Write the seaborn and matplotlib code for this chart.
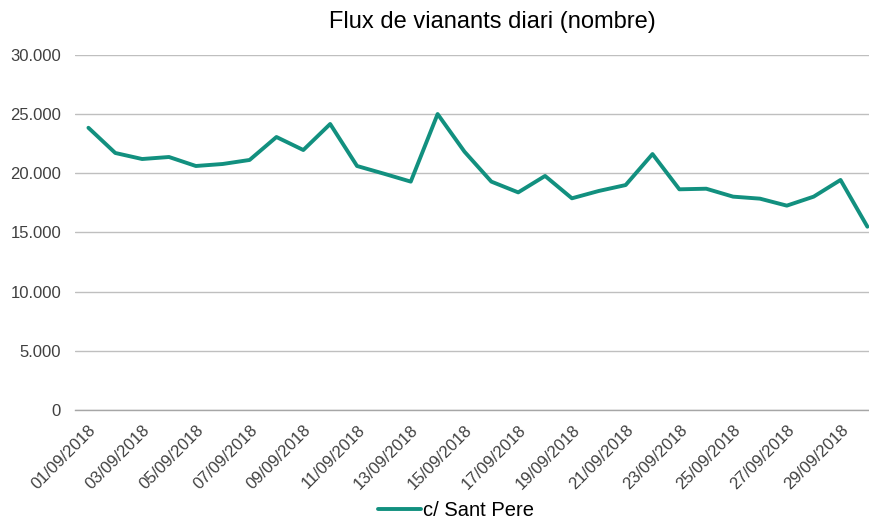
import pandas as pd
import matplotlib
matplotlib.use('Agg')
import matplotlib.pyplot as plt
import matplotlib.ticker as mticker
import seaborn as sns

# Daily pedestrian counts, September 2018
dates = [f"{d:02d}/09/2018" for d in range(1, 31)]
sant_pere = [23850, 21720, 21210, 21380, 20620, 20790, 21130, 23070, 21970, 24170,
             20620, 19970, 19300, 25010, 21830, 19300, 18390, 19780, 17890, 18510,
             19010, 21630, 18650, 18700, 18030, 17860, 17270, 18030, 19440, 15490]
series_name = "c/ Sant Pere"
title = "Flux de vianants diari (nombre)"

df = pd.DataFrame({"idx": range(len(dates)), "date": dates, "value": sant_pere})

sns.set_theme(style="white")
plt.rcParams['font.family'] = ['Liberation Sans', 'DejaVu Sans']

fig = plt.figure(figsize=(8.69, 5.21), dpi=100)
ax = fig.add_axes([75 / 869, 1 - 410 / 521, 794 / 869, 355 / 521])

sns.lineplot(data=df, x="idx", y="value", ax=ax, color="#12907F",
             linewidth=2.8, label=series_name, legend=False)

ax.set_ylim(0, 30000)
ax.set_xlim(-0.5, 29.06)
ax.yaxis.set_major_locator(mticker.MultipleLocator(5000))
ax.yaxis.set_major_formatter(mticker.FuncFormatter(
    lambda v, p: f"{int(v):,}".replace(",", ".")))
ax.grid(axis="y", color="#BFBFBF", linewidth=1)
ax.set_axisbelow(True)
for s in ax.spines.values():
    s.set_visible(False)
ax.spines["bottom"].set_visible(True)
ax.spines["bottom"].set_color("#A6A6A6")
ax.spines["bottom"].set_linewidth(1)

ax.set_xticks(df["idx"][::2])
ax.set_xticklabels(df["date"][::2], rotation=45, ha="right",
                   rotation_mode="anchor", fontsize=12, color="#404040")
ax.tick_params(axis="both", length=0, labelsize=12, labelcolor="#404040")
ax.tick_params(axis="y", pad=10)
ax.tick_params(axis="x", pad=9)
ax.set_xlabel("")
ax.set_ylabel("")

fig.text(492 / 869, 1 - 22 / 521, title, ha="center", va="center",
         fontsize=17, color="#000000")

handles, labels = ax.get_legend_handles_labels()
fig.legend(handles, labels, loc="center", bbox_to_anchor=(456 / 869, 1 - 511 / 521),
           frameon=False, fontsize=14.5, handlelength=2.1, handletextpad=0.1,
           labelcolor="#000000")

fig.savefig("out.png", dpi=100)
